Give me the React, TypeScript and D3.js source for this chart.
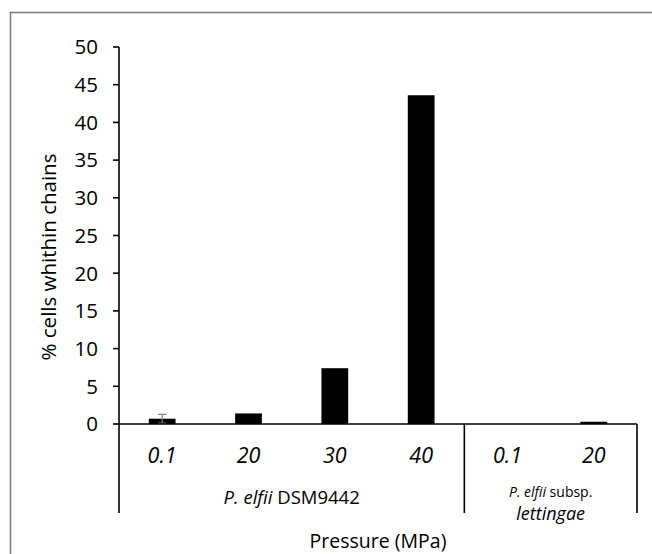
import React, { useRef, useEffect } from "react";
import * as d3 from "d3";

// categories (pressure in MPa) and the strain group they belong to
const pressures = ["0.1", "20", "30", "40", "0.1", "20"];
const groups = ["dsm", "dsm", "dsm", "dsm", "lett", "lett"];
const values = [0.7, 1.4, 7.4, 43.6, 0, 0.3];
const errors = [0.58, 0, 0, 0, 0, 0];
const yTicks = [0, 5, 10, 15, 20, 25, 30, 35, 40, 45, 50];

const FONT = "'Open Sans', sans-serif";

export default function App() {
  const ref = useRef<SVGSVGElement | null>(null);

  useEffect(() => {
    if (!ref.current) return;
    const svg = d3.select(ref.current);
    svg.selectAll("*").remove();

    const W = 652;
    const H = 554;
    const left = 119;
    const right = 637;
    const top = 47;
    const base = 424;
    const axisBottom = 513;

    // outer frame
    svg
      .append("rect")
      .attr("x", 10.5)
      .attr("y", 12.5)
      .attr("width", W)
      .attr("height", H)
      .attr("fill", "none")
      .attr("stroke", "#7a7a7a")
      .attr("stroke-width", 1.5);

    const x = d3
      .scaleBand<number>()
      .domain(d3.range(pressures.length))
      .range([left, right])
      .paddingInner(0.69)
      .paddingOuter(0.345);
    const y = d3.scaleLinear().domain([0, 50]).range([base, top]);

    // bars
    svg
      .selectAll("rect.bar")
      .data(values)
      .enter()
      .append("rect")
      .attr("class", "bar")
      .attr("x", (_d, i) => x(i)!)
      .attr("width", x.bandwidth())
      .attr("y", (d) => y(d))
      .attr("height", (d) => base - y(d))
      .attr("fill", "#000");

    // error bars
    values.forEach((v, i) => {
      if (!errors[i]) return;
      const cx = x(i)! + x.bandwidth() / 2;
      const g = svg.append("g").attr("stroke", "#808080").attr("stroke-width", 1.2);
      g.append("line").attr("x1", cx).attr("x2", cx).attr("y1", y(v - errors[i])).attr("y2", y(v + errors[i]));
      g.append("line").attr("x1", cx - 4).attr("x2", cx + 4).attr("y1", y(v + errors[i])).attr("y2", y(v + errors[i]));
      g.append("line").attr("x1", cx - 4).attr("x2", cx + 4).attr("y1", y(v - errors[i])).attr("y2", y(v - errors[i]));
    });

    // y axis
    const ax = svg.append("g").attr("stroke", "#000").attr("stroke-width", 1.6);
    ax.append("line").attr("x1", left).attr("x2", left).attr("y1", y(50)).attr("y2", axisBottom);
    yTicks.forEach((t) => {
      ax.append("line").attr("x1", left - 6).attr("x2", left).attr("y1", y(t)).attr("y2", y(t));
    });
    svg
      .selectAll("text.ytick")
      .data(yTicks)
      .enter()
      .append("text")
      .attr("class", "ytick")
      .attr("x", 98)
      .attr("y", (d) => y(d))
      .attr("dy", "0.36em")
      .attr("text-anchor", "end")
      .attr("font-family", FONT)
      .attr("font-size", 20.5)
      .attr("fill", "#000")
      .text((d) => d);

    // x axis baseline and group separators
    ax.append("line").attr("x1", left).attr("x2", right).attr("y1", base).attr("y2", base);
    const groupNames = Array.from(new Set(groups));
    const groupEnds = groupNames.map((gname) => {
      const idx = groups.map((g, i) => (g === gname ? i : -1)).filter((i) => i >= 0);
      const step = x.step();
      const x0 = x(idx[0])! - (step - x.bandwidth()) / 2;
      const x1 = x(idx[idx.length - 1])! + x.bandwidth() + (step - x.bandwidth()) / 2;
      return { gname, x0, x1 };
    });
    groupEnds.forEach((ge) => {
      ax.append("line").attr("x1", ge.x1).attr("x2", ge.x1).attr("y1", base).attr("y2", axisBottom);
    });

    // category labels
    svg
      .selectAll("text.xcat")
      .data(pressures)
      .enter()
      .append("text")
      .attr("class", "xcat")
      .attr("x", (_d, i) => x(i)! + x.bandwidth() / 2)
      .attr("y", 463)
      .attr("text-anchor", "middle")
      .attr("font-family", FONT)
      .attr("font-style", "italic")
      .attr("font-size", 21.5)
      .attr("fill", "#000")
      .text((d) => d);

    // group labels
    const g1 = groupEnds[0];
    const t1 = svg
      .append("text")
      .attr("x", (g1.x0 + g1.x1) / 2)
      .attr("y", 504)
      .attr("text-anchor", "middle")
      .attr("font-family", FONT)
      .attr("font-size", 18.5)
      .attr("fill", "#000");
    t1.append("tspan").attr("font-style", "italic").text("P. elfii");
    t1.append("tspan").text(" DSM9442");

    const g2 = groupEnds[1];
    const t2 = svg
      .append("text")
      .attr("x", (g2.x0 + g2.x1) / 2)
      .attr("y", 497)
      .attr("text-anchor", "middle")
      .attr("font-family", FONT)
      .attr("font-size", 14)
      .attr("fill", "#000");
    t2.append("tspan").attr("font-style", "italic").text("P. elfii");
    t2.append("tspan").text(" subsp.");
    svg
      .append("text")
      .attr("x", (g2.x0 + g2.x1) / 2)
      .attr("y", 520)
      .attr("text-anchor", "middle")
      .attr("font-family", FONT)
      .attr("font-style", "italic")
      .attr("font-size", 18)
      .attr("fill", "#000")
      .text("lettingae");

    // axis titles
    svg
      .append("text")
      .attr("x", (left + right) / 2)
      .attr("y", 548)
      .attr("text-anchor", "middle")
      .attr("font-family", FONT)
      .attr("font-size", 19.5)
      .attr("fill", "#000")
      .text("Pressure (MPa)");
    svg
      .append("text")
      .attr("transform", "translate(56,257) rotate(-90)")
      .attr("text-anchor", "middle")
      .attr("font-family", FONT)
      .attr("font-size", 20.5)
      .attr("fill", "#000")
      .text("% cells whithin chains");
  }, []);

  return (
    <svg
      ref={ref}
      width={652}
      height={554}
      style={{ position: "absolute", left: 0, top: 0, background: "#fff" }}
    />
  );
}
